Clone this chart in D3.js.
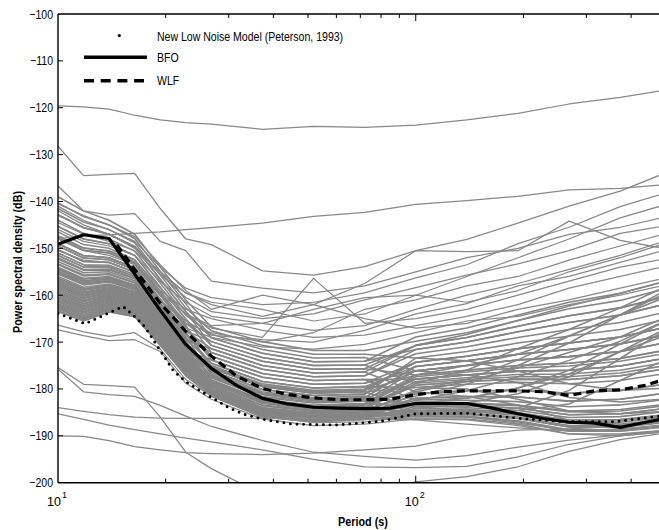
<!DOCTYPE html>
<html><head><meta charset="utf-8">
<script src="https://cdn.jsdelivr.net/npm/d3@7/dist/d3.min.js"></script>
<style>body{margin:0;background:#fff;}svg{display:block;}</style>
</head><body>
<svg id="chart" width="659" height="530"></svg>
<script>
// ---------------- DATA ----------------
const periods = [10, 11.79, 13.89, 16.38, 19.31, 22.76, 26.83, 37.28, 51.79, 71.97, 100, 138.9, 193.1, 268.3, 372.8, 517.9];

const bandLines = [
[-139,-142,-144,-147,-154,-161,-166.8,-169.9,-171.8,-171.8,-169.8,-168,-165.4,-162.9,-161.1,-158.3],
[-140.3,-143.2,-145,-147.9,-154.9,-161.8,-169.1,-172.4,-174.2,-174.1,-168.9,-167,-164.2,-161.5,-159.6,-156.7],
[-141.5,-144.4,-146,-148.8,-155.7,-162.7,-167.6,-170.7,-172.6,-172.6,-173.4,-174,-176.2,-178.9,-180.3,-179.8],
[-142.8,-145.6,-147,-149.7,-156.6,-163.5,-170.7,-174.1,-175.8,-175.7,-170.7,-169,-166.6,-164.4,-162.7,-160],
[-144,-146.8,-148,-150.6,-157.4,-164.3,-168.3,-171.6,-173.4,-173.3,-176.1,-177,-178.6,-181.8,-182.8,-182.1],
[-145.3,-148,-149,-151.5,-158.3,-165.1,-172.2,-175.8,-177.4,-177.2,-172.5,-171,-169,-167.3,-165.8,-163.3],
[-146.5,-149.2,-150,-152.4,-159.1,-166,-169.9,-173.3,-175,-174.9,-178.8,-176,-171.4,-167.3,-162.7,-157.6],
[-147.8,-150.4,-151,-153.3,-160,-166.8,-173.8,-177.5,-179,-178.8,-174.3,-173,-171.4,-170.2,-168.9,-166.6],
[-149,-151.6,-152,-154.2,-160.8,-167.6,-171.4,-175,-176.6,-176.4,-180.6,-178.4,-175.5,-172.2,-168.9,-164.2],
[-149.5,-152.1,-152.4,-154.6,-161.1,-167.9,-175.3,-179.2,-180.6,-180.3,-177,-176,-175,-174.5,-173.5,-171.5],
[-150.3,-152.8,-153,-155.1,-161.7,-168.4,-173,-176.7,-178.2,-178,-182.4,-182,-179.8,-176,-170.4,-164.9],
[-151,-153.5,-153.6,-155.6,-162.2,-168.9,-176.9,-180.9,-182.2,-181.9,-175.2,-174,-172.6,-171.6,-170.4,-168.2],
[-151.5,-154,-154,-156,-162.5,-169.3,-174.5,-178.4,-179.8,-179.5,-179.7,-180,-182.2,-184.7,-185.3,-184.7],
[-152,-154.5,-154.4,-156.4,-162.8,-169.6,-178.4,-182.6,-183.8,-183.4,-177.9,-177,-176.2,-176,-175.1,-173.2],
[-152.8,-155.2,-155,-156.9,-163.4,-170.1,-175.6,-179.5,-180.9,-180.6,-184.2,-183,-181,-177.4,-172,-166.6],
[-153.3,-155.7,-155.4,-157.3,-163.7,-170.4,-177.6,-181.8,-183,-182.6,-181,-180.4,-180.3,-180.9,-180.3,-178.8],
[-154,-156.4,-156,-157.8,-164.2,-170.9,-176.5,-180.6,-181.9,-181.5,-183.3,-183,-183.4,-184.7,-184.4,-183.1],
[-154.5,-156.9,-156.4,-158.2,-164.5,-171.2,-179.2,-183.5,-184.6,-184.2,-179.2,-178.4,-177.9,-178,-177.2,-175.5],
[-155,-157.4,-156.8,-158.5,-164.9,-171.6,-177.2,-181.2,-182.5,-182.2,-185.1,-185,-184.6,-183.2,-178.2,-173.2],
[-155.5,-157.8,-157.2,-158.9,-165.2,-171.9,-180,-184.3,-185.4,-185,-182,-181.6,-181.7,-182.6,-182.2,-180.7],
[-156,-158.3,-157.6,-159.2,-165.6,-172.2,-178.1,-182.3,-183.5,-183.1,-183.8,-183.6,-184.1,-185.5,-185.3,-184],
[-156.5,-158.8,-158,-159.6,-165.9,-172.6,-180.7,-185.2,-186.2,-185.7,-182.8,-182.4,-182.7,-183.8,-183.4,-182.1],
[-157,-159.3,-158.4,-160,-166.2,-172.9,-178.7,-182.9,-184.1,-183.7,-185.6,-185.2,-184.1,-180.3,-173.5,-166.6],
[-157.5,-159.8,-158.8,-160.3,-166.6,-173.2,-179.6,-184,-185.1,-184.6,-184.6,-184.4,-185.1,-186.7,-186.5,-185.4],
[-158,-160.2,-159.2,-160.7,-166.9,-173.5,-180.3,-184.6,-185.7,-185.3,-183.5,-183.2,-183.6,-184.9,-184.7,-183.4],
[-158.5,-160.7,-159.6,-161,-167.3,-173.9,-181,-185.5,-186.5,-186,-185.3,-185.2,-186,-187.8,-187.8,-186.7],
[-159,-161.2,-160,-161.4,-167.6,-174.2,-179.3,-183.6,-184.8,-184.3,-181.5,-179,-175,-170.2,-164.2,-158.3],
[-159.5,-161.7,-160.4,-161.8,-167.9,-174.5,-180.4,-184.8,-185.9,-185.4,-186,-186,-187,-189,-189,-188],
[-160,-162.2,-160.8,-162.1,-168.3,-174.9,-181.2,-185.7,-186.7,-186.2,-184.9,-184.8,-185.6,-187.3,-187.1,-186],
[-160.5,-162.6,-161.2,-162.5,-168.6,-175.2,-180,-184.3,-185.4,-185,-180.2,-178,-173.8,-168.7,-164.2,-159],
[-161,-163.1,-161.6,-162.8,-169,-175.5,-180.9,-185.3,-186.4,-185.9,-184.2,-184,-184.6,-186.1,-185.9,-184.7],
[-161.5,-163.6,-162,-163.2,-169.3,-175.9,-181.5,-186,-187,-186.5,-185.5,-185.4,-186.3,-188.1,-188.1,-187],
[-162,-164.1,-162.4,-163.6,-169.6,-176.2,-180.6,-185,-186,-185.6,-183.1,-182,-179.8,-176.8,-172,-168.2],
[-162.5,-164.6,-162.8,-163.9,-170,-176.5,-181.3,-185.8,-186.8,-186.3,-186.4,-186.4,-187.5,-189.6,-189.6,-188.7],
[-163,-165,-163.2,-164.3,-170.3,-176.8,-181,-185.5,-186.5,-186,-184.7,-184.6,-185.3,-187,-186.8,-185.7],
[-163.5,-165.5,-163.6,-164.6,-170.7,-177.2,-181.5,-186,-187,-186.5,-185.8,-185.8,-186.8,-188.7,-188.7,-187.7],
[-147.3,-149.9,-150.6,-152.9,-159.6,-166.4,-176.1,-180.1,-181.4,-181.1,-176.1,-175,-173.8,-173.1,-172,-169.9],
[-152.3,-154.7,-154.6,-156.5,-163,-169.7,-171.4,-175,-176.6,-176.4,-170.7,-169,-166.6,-164.4,-162.7,-160],
[-154.3,-156.6,-156.2,-158,-164.4,-171.1,-175,-178.9,-180.3,-180,-174.3,-173,-171.4,-170.2,-168.9,-166.6],
[-156.3,-158.6,-157.8,-159.4,-165.7,-172.4,-178.9,-183.1,-184.3,-183.9,-178.4,-177.6,-176.9,-176.8,-176,-174.1],
[-158.8,-161,-159.8,-161.2,-167.4,-174,-177.5,-181.6,-182.8,-182.5,-176.1,-175,-173.8,-173.1,-172,-169.9],
[-160.8,-162.9,-161.4,-162.7,-168.8,-175.4,-179.6,-184,-185.1,-184.6,-180.6,-181.6,-183.4,-186.7,-187.5,-186.4],
[-162.3,-164.3,-162.6,-163.7,-169.8,-176.3,-178.4,-182.6,-183.8,-183.4,-177.4,-176.4,-175.5,-175.1,-174.1,-172.2],
[-153.5,-155.9,-155.6,-157.4,-163.9,-170.6,-180,-184.3,-185.4,-185,-185.5,-185.4,-186.3,-188.1,-188.1,-187],
[-154.8,-157.1,-156.6,-158.3,-164.7,-171.4,-176.1,-180.1,-181.4,-181.1,-173.4,-172,-170.2,-168.7,-167.3,-164.9],
[-156.8,-159,-158.2,-159.8,-166.1,-172.7,-176.9,-180.9,-182.2,-181.9,-175.2,-174,-172.6,-171.6,-170.4,-168.2],
[-157.8,-160,-159,-160.5,-166.8,-173.4,-175.3,-179.2,-180.6,-180.3,-174.3,-173,-171.4,-170.2,-168.9,-166.6],
[-159.3,-161.4,-160.2,-161.6,-167.8,-174.4,-178.1,-182.3,-183.5,-183.1,-177,-176,-175,-174.5,-173.5,-171.5],
[-160.3,-162.4,-161,-162.3,-168.5,-175,-179.2,-183.5,-184.6,-184.2,-178.8,-178,-177.4,-177.4,-176.6,-174.8],
[-161.3,-163.4,-161.8,-163,-169.1,-175.7,-180.3,-184.6,-185.7,-185.3,-182.4,-180.4,-177.4,-173.9,-169.8,-164.9],
[-161.8,-163.8,-162.2,-163.4,-169.5,-176,-180.7,-185.2,-186.2,-185.7,-181,-180.4,-180.3,-180.9,-180.3,-178.8],
[-162.8,-164.8,-163,-164.1,-170.2,-176.7,-181.2,-185.7,-186.7,-186.2,-183.8,-183.6,-184.1,-185.5,-185.3,-184],
[-163.3,-165.3,-163.4,-164.5,-170.5,-177,-180.9,-185.3,-186.4,-185.9,-182,-181.6,-181.7,-182.6,-182.2,-180.7],
[-157.3,-159.5,-158.6,-160.1,-166.4,-173,-178.4,-182.6,-183.8,-183.4,-179.2,-178.4,-177.9,-178,-177.2,-175.5],
[-159.8,-161.9,-160.6,-161.9,-168.1,-174.7,-177.2,-181.2,-182.5,-182.2,-177.9,-177,-176.2,-176,-175.1,-173.2],
[-158.3,-160.5,-159.4,-160.9,-167.1,-173.7,-180.4,-184.8,-185.9,-185.4,-184.6,-184.4,-185.1,-186.7,-186.5,-185.4],
[-142.8,-145.6,-147,-149.7,-156.6,-163.5,-169.1,-172.4,-174.2,-174.1,-171.6,-170,-167.8,-165.8,-164.2,-161.6],
[-145.3,-148,-149,-151.5,-158.3,-165.1,-170.7,-174.1,-175.8,-175.7,-177,-175,-172.6,-168.7,-164.2,-160],
[-147.8,-150.4,-151,-153.3,-160,-166.8,-173,-176.7,-178.2,-178,-177.9,-177,-176.2,-176,-175.1,-173.2],
[-150.3,-152.8,-153,-155.1,-161.7,-168.4,-174.5,-178.4,-179.8,-179.5,-175.2,-174,-172.6,-171.6,-170.4,-168.2],
[-151.5,-154,-154,-156,-162.5,-169.3,-172.2,-175.8,-177.4,-177.2,-171.6,-170,-167.8,-165.8,-164.2,-161.6],
[-149,-151.6,-152,-154.2,-160.8,-167.6,-169.9,-173.3,-175,-174.9,-170.7,-168.4,-165.4,-162.3,-159.6,-156.7],
[-155.3,-157.6,-157,-158.7,-165.1,-171.7,-173.8,-177.5,-179,-178.8,-176.1,-175,-173.8,-173.1,-172,-169.9],
[-157.8,-160,-159,-160.5,-166.8,-173.4,-175.6,-179.5,-180.9,-180.6,-179.7,-179,-178.6,-178.9,-178.2,-176.5]
];

const upperLines = [
[-119.6,-119.8,-120.3,-121.6,-122.6,-123.2,-123.5,-124.6,-124,-124.2,-123.7,-122.6,-121.2,-119.2,-117.8,-116],
[-128.2,-134.5,-134.2,-134,-141.5,-148,-149.2,-154.8,-155.7,-153.9,-150.5,-148.1,-144.6,-141,-137.8,-133.4],
[-136.7,-142,-142.9,-142.6,-148.5,-150.5,-157,-158.5,-159.5,-158,-155,-152,-150,-147,-145.5,-143],
[-148,-147.3,-147.1,-146.8,-146.5,-146,-145.6,-144.6,-143.2,-142.3,-140.6,-139.8,-138.9,-137.5,-137.2,-136.3],
[-141,-144,-146,-148.5,-154,-158.5,-160.5,-162,-161.5,-159.5,-156.3,-153.5,-149,-145.5,-141.1,-137.8],
[-143,-145.5,-147,-149.5,-155.5,-160.5,-163.5,-165,-164,-161,-158.4,-155.7,-153.3,-150.5,-146.8,-145],
[-142,-145,-147,-150,-155,-159.5,-162,-164.5,-162,-157.5,-150.5,-150.7,-150.5,-144.2,-148.3,-150.3],
[-147.5,-150,-150.5,-152.5,-158.5,-164,-167,-169,-156.4,-166,-165,-163,-160,-157,-154,-152],
[-144.5,-147,-148.5,-150.5,-155.5,-159.5,-161.5,-163,-165.5,-164,-160,-156,-152,-148,-143.5,-140.3],
[-146,-148.5,-149.5,-151.5,-157,-161.5,-164.5,-166,-167.5,-166.5,-163,-160,-157.5,-154.5,-151.5,-148],
[-148,-150.5,-151.5,-153.5,-159,-163,-165,-167.5,-169,-168.5,-166.5,-164.5,-162,-158.5,-156,-153.5],
[-140.5,-143,-145,-147.5,-153.5,-159,-163,-160,-162,-165,-167,-166,-163,-161,-158.5,-156],
[-149,-151.5,-152,-154,-159.5,-164,-166.5,-166,-163,-160.5,-160,-161.5,-159,-155,-152,-148.5],
[-150.5,-152.5,-153,-155,-161,-166,-168,-170,-168,-163,-161,-158,-156,-152.5,-149.5,-146.5],
[-151,-153.5,-154,-156,-162,-167,-169,-171,-171.5,-170.5,-168,-165.5,-164.5,-162,-160,-157.5],
[-149.5,-152,-152.5,-154.5,-160,-165.5,-168.5,-169.5,-170,-167.5,-164,-161.8,-158,-156,-153,-150]
];

const lowerLines = [
[-175.4,-179,-179.3,-179.6,-186,-193.5,-197,-202.5,-204,-202,-199.8,-198.7,-196.6,-193.3,-190.8,-189.2],
[-175.8,-180.6,-181.2,-181.6,-183.5,-185.8,-188,-191,-193.5,-194.4,-195.2,-194.2,-192.4,-190.9,-189.8,-188.8],
[-190,-190.1,-191,-192.3,-193,-193.6,-193.8,-194,-193.7,-193,-192.2,-190,-188.8,-188.5,-188,-187],
[-184,-184.8,-185.5,-186,-186.2,-186.3,-186.3,-186.3,-186.3,-186.3,-186.6,-187.5,-188.3,-189,-188.5,-187.5],
[-166.4,-167.8,-168.8,-168,-171.5,-178,-181.5,-185.8,-187.2,-187,-185.8,-186,-187.3,-188.8,-189,-188],
[-167.4,-168.6,-169.7,-169.5,-172,-178.8,-182.2,-186.4,-187.8,-187.5,-186.4,-186.6,-187.8,-189.6,-190,-189],
[-185.3,-186.5,-187.7,-188.7,-189.6,-190.5,-191.3,-193,-195,-196.6,-196.8,-196.5,-194.5,-191.8,-190,-189]
];

const nlnmPeriods = [10, 11.9, 13.5, 15.2, 16.4, 17.5, 19.3, 21, 22.8, 24.5, 26.8, 30, 33, 38, 45, 60, 80, 100, 140, 190, 260, 360, 480];
const nlnmValues  = [-163.9, -166.1, -164.2, -162.4, -164.6, -166.8, -171.8, -176.1, -178.5, -180, -181.8, -184, -185.4, -186.6, -187.5, -187.7, -186.9, -185.3, -185.2, -186.2, -187, -187, -185.8];

const finePeriods = [10, 11.79, 13.89, 16.38, 19.31, 22.76, 26.83, 31.62, 37.28, 43.94, 51.79, 61.05, 71.97, 84.83, 100, 117.9, 138.9, 163.8, 193.1, 227.6, 268.3, 316.2, 372.8, 439.4, 517.9];
const bfoValues = [-149.1, -147.1, -147.9, -155.5, -163.2, -170.5, -175.6, -179.3, -182, -183.2, -183.9, -184.1, -184.2, -184.1, -183.1, -183.1, -183.1, -184.1, -185.3, -186.3, -187.1, -187.3, -188.2, -187.1, -186];

const wlfPeriods = [14.6, 16.38, 19.31, 22.76, 26.83, 31.62, 37.28, 43.94, 51.79, 61.05, 71.97, 84.83, 100, 117.9, 138.9, 163.8, 193.1, 227.6, 268.3, 316.2, 372.8, 439.4, 517.9];
const wlfValues = [-149.3, -154.5, -161.7, -167.7, -173, -177.3, -179.9, -181.2, -181.9, -182.3, -182.3, -182.2, -181.2, -180.6, -180.4, -180.4, -180.4, -180.6, -181.4, -180.4, -180.2, -179.2, -177.5];

const yTicks = [-100, -110, -120, -130, -140, -150, -160, -170, -180, -190, -200];
const xMajorTicks = [10, 100];
const xMajorExp = ["1", "2"];
const xMinorTicks = [20, 30, 40, 50, 60, 70, 80, 90, 200, 300, 400];
const legendLabels = ["New Low Noise Model (Peterson, 1993)", "BFO", "WLF"];
const xTitle = "Period (s)";
const yTitle = "Power spectral density (dB)";

// ---------------- CHART ----------------
const FONT = "'Liberation Sans', Arial, Helvetica, sans-serif";
const svg = d3.select("#chart");
const L = 58, R = 659, T = 14, B = 482.7;
const x = d3.scaleLog().domain([10, 478.6]).range([L, R]);
const y = d3.scaleLinear().domain([-200, -100]).range([B, T]);

function condense(sel, ratio) {
  sel.each(function () {
    const w = this.getComputedTextLength();
    d3.select(this).attr("textLength", (w * ratio).toFixed(1)).attr("lengthAdjust", "spacingAndGlyphs");
  });
  return sel;
}

svg.append("defs").append("clipPath").attr("id", "plotclip")
  .append("rect").attr("x", L).attr("y", T).attr("width", R - L).attr("height", B - T);

const plot = svg.append("g").attr("clip-path", "url(#plotclip)");
const lineOn = (ps) => d3.line().x((d, i) => x(ps[i])).y(d => y(d));
const grayGen = lineOn(periods);

plot.selectAll("path.band").data(bandLines).join("path")
  .attr("class", "band")
  .attr("d", d => grayGen(d))
  .attr("fill", "none")
  .attr("stroke", "#858585")
  .attr("stroke-width", 1.55)
  .attr("stroke-linejoin", "round");

plot.selectAll("path.outl").data(upperLines.concat(lowerLines)).join("path")
  .attr("class", "outl")
  .attr("d", d => grayGen(d))
  .attr("fill", "none")
  .attr("stroke", "#888")
  .attr("stroke-width", 1.25)
  .attr("stroke-linejoin", "round");

// NLNM dotted
plot.append("path")
  .attr("d", lineOn(nlnmPeriods)(nlnmValues))
  .attr("fill", "none").attr("stroke", "#000").attr("stroke-width", 2.9)
  .attr("stroke-linecap", "round").attr("stroke-dasharray", "0,6.6");

// BFO
plot.append("path")
  .attr("d", lineOn(finePeriods)(bfoValues))
  .attr("fill", "none").attr("stroke", "#000").attr("stroke-width", 3.2)
  .attr("stroke-linejoin", "round");

// WLF
plot.append("path")
  .attr("d", lineOn(wlfPeriods)(wlfValues))
  .attr("fill", "none").attr("stroke", "#000").attr("stroke-width", 3.2)
  .attr("stroke-dasharray", "8,5");

// Frame
const frame = svg.append("g").attr("stroke", "#000").attr("stroke-width", 1.4);
frame.append("line").attr("x1", L).attr("x2", L).attr("y1", T).attr("y2", B);
frame.append("line").attr("x1", L).attr("x2", R).attr("y1", B).attr("y2", B);
frame.append("line").attr("x1", L).attr("x2", R).attr("y1", T).attr("y2", T);

frame.selectAll("line.yt").data(yTicks.slice(1, -1)).join("line")
  .attr("class", "yt").attr("x1", L).attr("x2", L + 5)
  .attr("y1", d => y(d)).attr("y2", d => y(d)).attr("stroke-width", 1);

frame.selectAll("line.xminb").data(xMinorTicks).join("line")
  .attr("class", "xminb").attr("x1", d => x(d)).attr("x2", d => x(d))
  .attr("y1", B).attr("y2", B - 4).attr("stroke-width", 1);
frame.selectAll("line.xmint").data(xMinorTicks).join("line")
  .attr("class", "xmint").attr("x1", d => x(d)).attr("x2", d => x(d))
  .attr("y1", T).attr("y2", T + 4).attr("stroke-width", 1);
frame.selectAll("line.xmajb").data(xMajorTicks.slice(1)).join("line")
  .attr("class", "xmajb").attr("x1", d => x(d)).attr("x2", d => x(d))
  .attr("y1", B).attr("y2", B - 7).attr("stroke-width", 1);
frame.selectAll("line.xmajt").data(xMajorTicks.slice(1)).join("line")
  .attr("class", "xmajt").attr("x1", d => x(d)).attr("x2", d => x(d))
  .attr("y1", T).attr("y2", T + 7).attr("stroke-width", 1);

// Y tick labels
const yl = svg.append("g").attr("font-family", FONT).attr("font-size", 12.5).attr("fill", "#000");
yl.selectAll("text").data(yTicks).join("text")
  .attr("x", 53).attr("y", d => y(d)).attr("dy", "0.36em")
  .attr("text-anchor", "end")
  .text(d => "\u2212" + Math.abs(d))
  .call(condense, 0.84);

// X tick labels
const xl = svg.append("g").attr("font-family", FONT).attr("fill", "#000");
xMajorTicks.forEach((v, i) => {
  const t = xl.append("text").attr("x", x(v) - 1).attr("y", 506).attr("text-anchor", "middle").attr("font-size", 12.5);
  t.append("tspan").text("10");
  t.append("tspan").attr("font-size", 9).attr("dy", -8).attr("dx", 1).text(xMajorExp[i]);
});

// Axis titles
svg.append("text").attr("x", 363).attr("y", 526).attr("text-anchor", "middle")
  .attr("font-family", FONT).attr("font-size", 13).attr("font-weight", "bold").attr("fill", "#000")
  .text(xTitle).call(condense, 0.83);
svg.append("text").attr("transform", "translate(22,262) rotate(-90)").attr("text-anchor", "middle")
  .attr("font-family", FONT).attr("font-size", 13).attr("font-weight", "bold").attr("fill", "#000")
  .text(yTitle).call(condense, 0.83);

// Legend
const lg = svg.append("g").attr("font-family", FONT).attr("font-size", 13.5).attr("fill", "#000");
lg.append("circle").attr("cx", 119.3).attr("cy", 35.5).attr("r", 1.6).attr("fill", "#000");
lg.append("line").attr("x1", 84).attr("x2", 147).attr("y1", 57.3).attr("y2", 57.3)
  .attr("stroke", "#000").attr("stroke-width", 3.4);
lg.append("line").attr("x1", 84).attr("x2", 144).attr("y1", 80.7).attr("y2", 80.7)
  .attr("stroke", "#000").attr("stroke-width", 3.4).attr("stroke-dasharray", "10,6.7");
const lgY = [40.8, 61.8, 85];
lg.selectAll("text").data(legendLabels).join("text")
  .attr("x", 157).attr("y", (d, i) => lgY[i]).text(d => d)
  .call(condense, 0.78);
</script>
</body></html>
